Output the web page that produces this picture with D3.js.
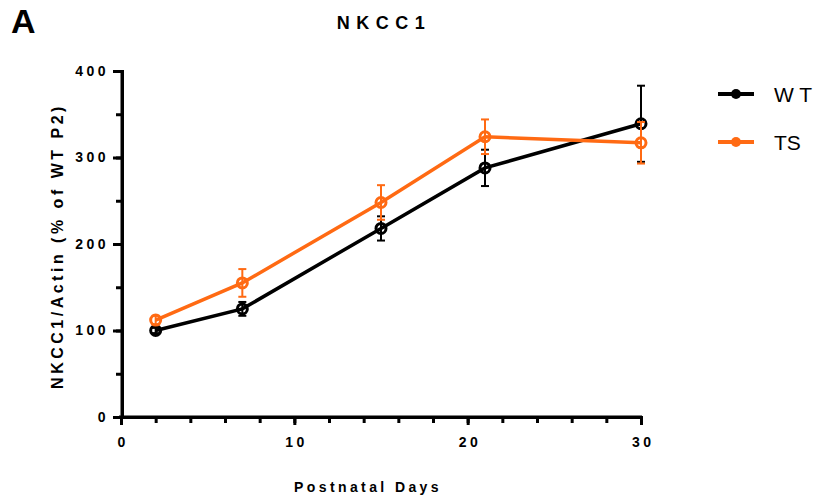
<!DOCTYPE html>
<html>
<head>
<meta charset="utf-8">
<script src="https://cdn.jsdelivr.net/npm/d3@7"></script>
<style>
	body { margin: 0; background: #fff; }
	text { font-family: Arial, "Liberation Sans", sans-serif; }
</style>
</head>
<body>
<script>

// postnatal days sampled
var days = [2, 7, 15, 21, 30];

// NKCC1/Actin (% of WT P2), mean and error
var wtMean = [100, 125, 218, 288, 339];
var wtErr = [3, 8, 14, 21, 44];
var tsMean = [112, 155, 248, 324, 317];
var tsErr = [5, 16, 20, 20, 24];

var seriesNames = ['W T', 'TS'];
var xTicks = [0, 10, 20, 30];
var yTicks = [0, 100, 200, 300, 400];

var W = 822, H = 501;
var BLACK = '#000', ORANGE = '#ff6a13';
var TICKSPACE = 3.5;

var svg = d3.select('body').append('svg')
	.attr('width', W)
	.attr('height', H);

var x = d3.scaleLinear().domain([0, 30]).range([121, 641]);
var y = d3.scaleLinear().domain([0, 400]).range([417, 71]);

// panel letter & title
svg.append('text').attr('x', 11).attr('y', 33)
	.style('font-size', '34px').style('font-weight', 'bold').text('A');
svg.append('text').attr('x', 384).attr('y', 29)
	.attr('text-anchor', 'middle')
	.style('font-size', '18px').style('font-weight', 'bold')
	.style('letter-spacing', '6.5px').text('NKCC1');

// ------------------------ AXES ------------------------
// minor ticks first, then the main axes with labels
var xMinor = svg.append('g').attr('transform', 'translate(0,417)')
	.call(d3.axisBottom(x).tickValues(d3.range(0, 31, 2)).tickSize(6).tickFormat(''));
var yMinor = svg.append('g').attr('transform', 'translate(122,0)')
	.call(d3.axisLeft(y).tickValues(d3.range(0, 401, 50)).tickSize(6).tickFormat(''));

var xAxis = svg.append('g').attr('transform', 'translate(0,417)')
	.call(d3.axisBottom(x).tickValues(xTicks).tickSize(8).tickPadding(12).tickSizeOuter(0));
var yAxis = svg.append('g').attr('transform', 'translate(122,0)')
	.call(d3.axisLeft(y).tickValues(yTicks).tickSize(9).tickPadding(4).tickSizeOuter(0));

[xMinor, yMinor, xAxis, yAxis].forEach(function(g) {
	g.selectAll('path').attr('stroke', BLACK).attr('stroke-width', 3);
	g.selectAll('line').attr('stroke', BLACK).attr('stroke-width', 3);
});
xAxis.select('path').attr('d', 'M119,0H642');
yAxis.select('path').attr('d', 'M0,70V418');

[xAxis, yAxis].forEach(function(g) {
	g.selectAll('text')
		.attr('fill', BLACK)
		.style('font-family', 'Arial, "Liberation Sans", sans-serif')
		.style('font-size', '14px')
		.style('font-weight', 'bold')
		.style('letter-spacing', TICKSPACE + 'px');
});
// letter-spacing leaves a trailing gap; nudge centred labels back
xAxis.selectAll('text').attr('dx', TICKSPACE / 2);

// axis titles
svg.append('text').attr('x', 368).attr('y', 492)
	.attr('text-anchor', 'middle')
	.style('font-size', '14px').style('font-weight', 'bold')
	.style('letter-spacing', '3.4px').text('Postnatal Days');
svg.append('text')
	.attr('transform', 'translate(63,246) rotate(-90)')
	.attr('text-anchor', 'middle')
	.style('font-size', '16px').style('font-weight', 'bold')
	.style('letter-spacing', '3.5px').text('NKCC1/Actin (% of WT P2)');

// ------------------------ SERIES ------------------------
var line = d3.line()
	.x(function(d) { return x(d.day); })
	.y(function(d) { return y(d.mean); });

function drawSeries(means, errs, color) {
	var pts = days.map(function(d, i) { return { day: d, mean: means[i], err: errs[i] }; });
	var g = svg.append('g');

	var eb = g.selectAll('.err').data(pts).enter().append('g')
		.attr('stroke', color).attr('stroke-width', 2);
	eb.append('line')
		.attr('x1', function(d) { return x(d.day); })
		.attr('x2', function(d) { return x(d.day); })
		.attr('y1', function(d) { return y(d.mean - d.err); })
		.attr('y2', function(d) { return y(d.mean + d.err); });
	[-1, 1].forEach(function(s) {
		eb.append('line')
			.attr('x1', function(d) { return x(d.day) - 4; })
			.attr('x2', function(d) { return x(d.day) + 4; })
			.attr('y1', function(d) { return y(d.mean + s * d.err); })
			.attr('y2', function(d) { return y(d.mean + s * d.err); });
	});

	g.append('path').datum(pts)
		.attr('d', line)
		.attr('fill', 'none')
		.attr('stroke', color)
		.attr('stroke-width', 3.5);

	g.selectAll('circle').data(pts).enter().append('circle')
		.attr('cx', function(d) { return x(d.day); })
		.attr('cy', function(d) { return y(d.mean); })
		.attr('r', 5)
		.attr('fill', 'none')
		.attr('stroke', color)
		.attr('stroke-width', 3);
}

drawSeries(wtMean, wtErr, BLACK);
drawSeries(tsMean, tsErr, ORANGE);

// ------------------------ LEGEND ------------------------
var legend = svg.selectAll('.legend')
	.data(seriesNames)
	.enter().append('g')
	.attr('transform', function(d, i) { return 'translate(718,' + (94 + i * 48) + ')'; });
legend.append('line')
	.attr('x1', 0).attr('x2', 36).attr('y1', 0).attr('y2', 0)
	.attr('stroke', function(d, i) { return i ? ORANGE : BLACK; })
	.attr('stroke-width', 4);
legend.append('circle')
	.attr('cx', 18).attr('r', 5)
	.attr('fill', function(d, i) { return i ? ORANGE : BLACK; });
legend.append('text')
	.attr('x', 56).attr('y', 8)
	.style('font-size', '21px')
	.text(function(d) { return d; });

</script>
</body>
</html>
